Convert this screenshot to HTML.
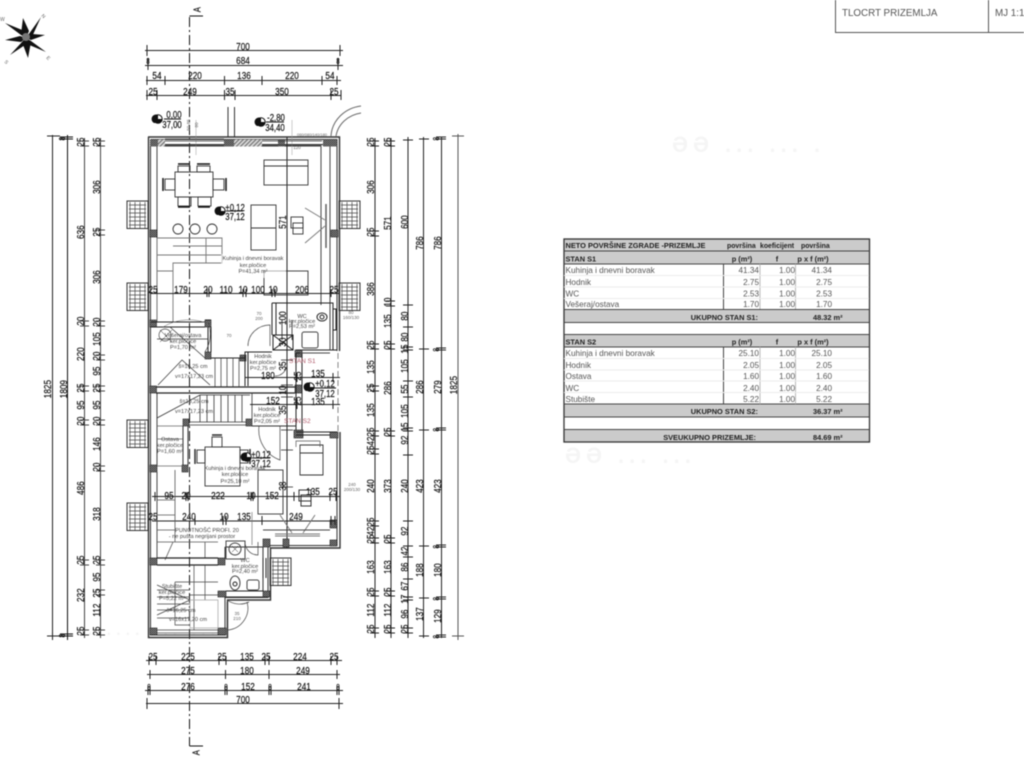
<!DOCTYPE html>
<html><head><meta charset="utf-8"><title>Tlocrt prizemlja</title>
<style>
html,body{margin:0;padding:0;background:#fff;width:1024px;height:768px;overflow:hidden}
svg{display:block;position:absolute;left:0;top:0;filter:blur(.4px)}
text{font-family:"Liberation Sans",sans-serif}
.d,.v{font-size:10.5px;fill:#111;stroke:#111;stroke-width:.2;text-anchor:middle;transform-box:fill-box;transform-origin:center}
.d{transform:scaleX(.78)}
.v{transform:rotate(-90deg) scaleX(.78)}
.s{font-size:5.6px;fill:#444;text-anchor:middle}
.t{font-size:8.2px;fill:#555}
.r{text-anchor:end}
.c{text-anchor:middle}
.b{font-weight:bold;fill:#222;font-size:7.4px}
.hd{font-size:6.9px}
.fx{font-size:4.5px;fill:#666;text-anchor:middle}
.ghost{font-size:22px;fill:#f5f5f5;font-weight:bold;letter-spacing:5px}
</style></head><body>
<svg width="1024" height="768" viewBox="0 0 1024 768" xmlns="http://www.w3.org/2000/svg">
<defs>
<pattern id="h" width="3" height="3" patternUnits="userSpaceOnUse" patternTransform="rotate(45)"><rect width="3" height="3" fill="#ddd"/><rect width="1.3" height="3" fill="#777"/></pattern>
<pattern id="p" width="2" height="2" patternUnits="userSpaceOnUse"><rect width="2" height="2" fill="#999"/><rect width="1" height="1" fill="#222"/><rect x="1" y="1" width="1" height="1" fill="#333"/></pattern>
<g id="gr"><rect width="21" height="27.5" fill="#fff" stroke="#333" stroke-width="1"/><path d="M2 4H19M2 8H19M2 12H19M2 16H19M2 20H19M2 24H19M3 1V27M8 1V27M13 1V27M18 1V27" stroke="#444" stroke-width=".7" fill="none"/></g>
</defs>
<rect width="1024" height="768" fill="#fff"/>

<!-- faint ghost text -->
<text class="ghost" x="672" y="152">ƏƏ ...  ... .</text>
<text class="ghost" x="565" y="463">ƏƏ ... ...</text>
<text class="ghost" x="50" y="635" style="font-size:16px">.......... ... ...</text>

<!-- title block -->
<path d="M835.5 0V32.5H1024M988.5 0V32.5" fill="none" stroke="#555" stroke-width="1"/>
<text x="842" y="16" style="font-size:9.8px;fill:#555">TLOCRT PRIZEMLJA</text>
<text x="995" y="16" style="font-size:9.8px;fill:#555">MJ 1:100</text>

<!-- compass -->
<g fill="#111">
<path d="M26 38L41 17L30 33ZM26 38L41 17L31 39Z"/>
<path d="M26 38L46 52L31 41ZM26 38L46 52L27 44Z"/>
<path d="M26 38L5 23L21 35ZM26 38L5 23L27 32Z"/>
<path d="M26 38L10 55L22 42ZM26 38L10 55L28 43Z"/>
<path d="M26 38L23 18L29 31ZM26 38L23 18L21 34Z"/>
<path d="M26 38L45 35L32 34ZM26 38L45 35L31 40Z"/>
<path d="M26 38L28 58L31 42ZM26 38L28 58L22 42Z"/>
<path d="M26 38L5 40L20 36ZM26 38L5 40L21 42Z"/>
</g>
<circle cx="26" cy="37" r="4" fill="#777"/>
<g style="font-size:5px;fill:#666"><text x="41" y="16" transform="rotate(45 41 16)">N</text><text x="0" y="21">W</text><text x="4" y="62" transform="rotate(45 4 62)">S</text><text x="46" y="58" transform="rotate(45 46 58)">E</text></g>

<!-- section axis -->
<path d="M189.5 17V746" fill="none" stroke="#111" stroke-width="1" stroke-dasharray="10 3 2 3"/>
<path d="M189.5 16H203M189.5 746H203" stroke="#111" stroke-width="1"/>
<text class="v" x="197" y="13" style="font-size:10px">A</text>
<text class="v" x="196" y="756" style="font-size:10px">A</text>

<!-- top horizontal dims -->
<g stroke="#222" stroke-width="1" fill="none">
<path d="M145 50.5H343M147 45V56M340 45V56"/>
<path d="M145 65.5H343M148 58V70M338 58V70"/>
<path d="M146 80.5H341M147 76V85M165 76V85M224.5 76V85M262 76V85M322 76V85M337 76V85"/>
<path d="M146 95.5H341M147 90V100M157 90V100M224.5 90V100M235 90V100M331 90V100M341 90V100"/>
<!-- bottom dims -->
<path d="M146 660.5H342M149 656V665M156 656V665M219 656V665M226 656V665M265 656V665M269 656V665M331 656V665M337 656V665"/>
<path d="M147 674.5H340M150 670V679M225.5 670V679M269 670V679M337 670V679"/>
<path d="M145 690.5H343M148 686V695M150 686V695M225 686V695M227 686V695M269 686V695M271 686V695M337 686V695M339 686V695"/>
<path d="M146 703.5H343M147 698V709M339 698V709"/>
</g>
<text class="d" x="243" y="50">700</text>
<text class="d" x="243" y="64">684</text>
<text class="d" x="148" y="64" style="font-size:8px">8</text><text class="d" x="338" y="64" style="font-size:8px">8</text>
<text class="d" x="157" y="79">54</text><text class="d" x="195" y="79">220</text><text class="d" x="244" y="79">136</text><text class="d" x="292" y="79">220</text><text class="d" x="330" y="79">54</text>
<text class="d" x="153" y="95">25</text><text class="d" x="190" y="95">249</text><text class="d" x="230" y="95">35</text><text class="d" x="282" y="95">350</text><text class="d" x="334" y="95">25</text>
<text class="d" x="153" y="660">25</text><text class="d" x="188" y="660">225</text><text class="d" x="222" y="660">25</text><text class="d" x="247" y="660">135</text><text class="d" x="266" y="660">25</text><text class="d" x="300" y="660">224</text><text class="d" x="334" y="660">25</text>
<text class="d" x="188" y="674">275</text><text class="d" x="247" y="674">180</text><text class="d" x="303" y="674">249</text>
<text class="d" x="149" y="690" style="font-size:8px">8</text><text class="d" x="188" y="690">276</text><text class="d" x="226" y="690" style="font-size:8px">8</text><text class="d" x="248" y="690">152</text><text class="d" x="270" y="690" style="font-size:8px">8</text><text class="d" x="304" y="690">241</text><text class="d" x="338" y="690" style="font-size:8px">8</text>
<text class="d" x="243" y="703">700</text>

<!-- vertical dim lines + ticks: left -->
<g stroke="#222" stroke-width="1" fill="none">
<path d="M52.5 135V640M47 136H60M47 636H60"/>
<path stroke="#111" d="M67.5 135V640M60 137H73M60 139H73M60 634H73M60 636H73"/>
<path stroke="#444" d="M84.5 138V638M80 141H89M80 146H89M80 321H89M80 326H89M80 386H89M80 391H89M80 420H89M80 425H89M80 560H89M80 565H89M80 630H89M80 635H89"/>
<path stroke="#444" d="M100.5 138V638M96 141H105M96 146H105M96 230H105M96 235H105M96 321H105M96 326H105M96 355H105M96 360H105M96 386H105M96 391H105M96 420H105M96 425H105M96 466H105M96 471H105M96 560H105M96 565H105M96 590H105M96 595H105M96 630H105M96 635H105"/>
<!-- right -->
<path d="M375 138V638M370 141H379M370 146H379M370 231H379M370 236H379M370 344H379M370 349H379M370 386H379M370 391H379M370 431H379M370 436H379M370 449H379M370 454H379M370 521H379M370 526H379M370 538H379M370 543H379M370 591H379M370 596H379M370 628H379M370 633H379"/>
<path d="M391 138V638M386 141H395M386 146H395M386 301H395M386 306H395M386 344H395M386 349H395M386 431H395M386 436H395M386 538H395M386 543H395M386 591H395M386 596H395M386 628H395M386 633H395"/>
<path d="M408 137V638M403 140H413M403 305H413M403 327H413M403 347H413M403 350H413M403 381H413M403 397H413M403 428H413M403 431H413M403 455H413M403 521H413M403 546H413M403 557H413M403 579H413M403 597H413M403 600H413M403 628H413M403 633H413"/>
<path d="M423.5 137V638M419 139H429M419 349H429M419 430H429M419 546H429M419 598H429M419 636H429"/>
<path d="M441.5 137V638M436 137H446M436 139H446M436 348H446M436 350H446M436 428H446M436 430H446M436 545H446M436 547H446M436 597H446M436 599H446M436 635H446M436 637H446"/>
<path stroke="#555" d="M458 134V640M452 136H464M452 636H464"/>
</g>
<!-- vertical labels left -->
<g>
<text class="v" x="47" y="393">1825</text><text class="v" x="63" y="393">1809</text>
<text class="v" x="80" y="236">636</text><text class="v" x="80" y="325">20</text><text class="v" x="80" y="358">220</text><text class="v" x="80" y="392">25</text><text class="v" x="80" y="409">95</text><text class="v" x="80" y="425">20</text><text class="v" x="80" y="492">486</text><text class="v" x="80" y="564">25</text><text class="v" x="80" y="599">232</text><text class="v" x="80" y="635">25</text>
<text class="v" x="80" y="146">25</text>
<text class="v" x="96" y="146">25</text><text class="v" x="96" y="191">306</text><text class="v" x="96" y="236">25</text><text class="v" x="96" y="281">306</text><text class="v" x="96" y="326">20</text><text class="v" x="96" y="343">105</text><text class="v" x="96" y="360">20</text><text class="v" x="96" y="375">95</text><text class="v" x="96" y="392">25</text><text class="v" x="96" y="409">95</text><text class="v" x="96" y="425">20</text><text class="v" x="96" y="448">146</text><text class="v" x="96" y="471">20</text><text class="v" x="96" y="518">318</text><text class="v" x="96" y="564">25</text><text class="v" x="96" y="581">95</text><text class="v" x="96" y="597">25</text><text class="v" x="96" y="614">112</text><text class="v" x="96" y="635">25</text>
<!-- right labels -->
<text class="v" x="370" y="146">25</text><text class="v" x="370" y="191">306</text><text class="v" x="370" y="236">25</text><text class="v" x="370" y="293">386</text><text class="v" x="370" y="349">25</text><text class="v" x="370" y="371">135</text><text class="v" x="370" y="392">25</text><text class="v" x="370" y="414">135</text><text class="v" x="370" y="436">25</text><text class="v" x="370" y="445">42</text><text class="v" x="370" y="454">25</text><text class="v" x="370" y="490">240</text><text class="v" x="370" y="526">25</text><text class="v" x="370" y="535">42</text><text class="v" x="370" y="543">25</text><text class="v" x="370" y="571">163</text><text class="v" x="370" y="596">25</text><text class="v" x="370" y="614">112</text><text class="v" x="370" y="633">25</text>
<text class="v" x="387" y="146">25</text><text class="v" x="387" y="227">571</text><text class="v" x="387" y="306">10</text><text class="v" x="387" y="325">135</text><text class="v" x="387" y="349">25</text><text class="v" x="387" y="392">286</text><text class="v" x="387" y="436">25</text><text class="v" x="387" y="490">373</text><text class="v" x="387" y="543">25</text><text class="v" x="387" y="571">163</text><text class="v" x="387" y="596">25</text><text class="v" x="387" y="614">112</text><text class="v" x="387" y="633">25</text>
<text class="v" x="404" y="226">600</text><text class="v" x="404" y="320">80</text><text class="v" x="404" y="341">80</text><text class="v" x="404" y="353">15</text><text class="v" x="404" y="370">105</text><text class="v" x="404" y="393">55</text><text class="v" x="404" y="415">105</text><text class="v" x="404" y="431">15</text><text class="v" x="404" y="444">92</text><text class="v" x="404" y="490">240</text><text class="v" x="404" y="535">92</text><text class="v" x="404" y="555">42</text><text class="v" x="404" y="571">86</text><text class="v" x="404" y="590">67</text><text class="v" x="404" y="603">17</text><text class="v" x="404" y="618">96</text><text class="v" x="404" y="633">25</text>
<text class="v" x="419" y="247">786</text><text class="v" x="419" y="391">286</text><text class="v" x="419" y="490">423</text><text class="v" x="419" y="574">188</text><text class="v" x="419" y="618">137</text>
<text class="v" x="437" y="247">786</text><text class="v" x="437" y="391">279</text><text class="v" x="437" y="490">423</text><text class="v" x="437" y="574">180</text><text class="v" x="437" y="620">129</text>
<text class="v" x="437" y="141" style="font-size:8px">8</text><text class="v" x="437" y="352" style="font-size:8px">8</text><text class="v" x="437" y="432" style="font-size:8px">8</text><text class="v" x="437" y="549" style="font-size:8px">8</text><text class="v" x="437" y="601" style="font-size:8px">8</text><text class="v" x="437" y="639" style="font-size:8px">8</text>
<text class="v" x="453" y="389">1825</text>
<text class="v" x="63" y="141" style="font-size:8px">8</text><text class="v" x="63" y="638" style="font-size:8px">8</text>
</g>

<!-- window grates -->
<use href="#gr" x="127" y="201"/><use href="#gr" x="339" y="201"/><use href="#gr" x="127" y="283"/><use href="#gr" x="339" y="283"/><use href="#gr" x="127" y="420"/><use href="#gr" x="127" y="503"/><use href="#gr" x="270" y="558"/>

<!-- outer walls -->
<g fill="none" stroke="#333" stroke-width="1">
<path d="M148 137H339.5V351M340 432V548H270.5V600H227.5V637.5H148.5V137" stroke-width="1.4"/>
<path d="M150.5 139.5H337V351M337 433V545.5H268V597.5H225V635H150.5V139.5"/>
<path d="M157 146V322M157 393V466M157 472V558M321 146V305M330 146V350" stroke="#444"/>
<path d="M338 353V432" stroke="#888" stroke-dasharray="6 3"/>
<path d="M157 146H321M152 144.5H336"/>
<!-- entrance stairs & arc at top -->
<path d="M228 107V137M234.5 107V137" stroke="#333"/>
<path d="M331 136C332 120 345 108 361 106M336 136C338 124 348 115 361 113" stroke="#666"/>
<!-- upper internal dim vertical -->
<path d="M287 137V548" stroke="#222"/>
<path d="M196 120V155M292 120V155" stroke="#999" stroke-width=".5"/>
</g>

<!-- top wall segments -->
<rect x="150" y="139.5" width="8" height="7" fill="url(#p)"/><rect x="158" y="139.5" width="7" height="7" fill="url(#h)"/>
<rect x="224" y="139.5" width="10" height="7" fill="url(#p)"/><rect x="234" y="139.5" width="28" height="7" fill="url(#h)"/>
<rect x="278" y="139.5" width="7" height="7" fill="url(#p)"/><rect x="323" y="139.5" width="14" height="7" fill="url(#p)"/>
<path d="M165 141H224M165 145H224M262 141H322M262 145H322M165 139H224" stroke="#333" stroke-width=".8" fill="none"/>

<!-- piers -->
<g fill="url(#p)" stroke="#222" stroke-width=".6">
<rect x="150" y="230" width="7" height="7"/><rect x="331" y="230" width="7" height="7"/>
<rect x="150" y="320" width="6.5" height="7"/><rect x="205" y="320" width="6" height="7"/>
<rect x="150" y="386" width="6.5" height="7"/><rect x="205" y="352" width="6" height="7"/><rect x="240" y="355" width="6" height="6"/>
<rect x="183" y="419" width="6" height="7"/><rect x="246" y="419" width="6" height="7"/>
<rect x="150" y="465" width="7" height="7"/><rect x="182" y="465" width="6" height="7"/>
<rect x="295" y="350" width="7" height="7"/><rect x="295" y="385" width="7" height="8"/><rect x="294" y="430" width="9" height="8"/><rect x="330" y="432" width="8" height="6"/>
<rect x="330" y="520" width="7" height="8"/><rect x="330" y="540" width="7" height="6"/><rect x="263" y="539" width="7" height="8"/><rect x="283" y="539" width="6" height="8"/>
<rect x="150" y="558" width="7" height="7"/><rect x="218" y="558" width="7" height="7"/><rect x="218" y="591" width="8" height="6"/><rect x="263" y="591" width="7" height="6"/>
<rect x="150" y="628" width="7" height="7"/><rect x="218" y="628" width="8" height="7"/>
</g>

<!-- upper room furniture -->
<g fill="none" stroke="#333" stroke-width=".9">
<rect x="175" y="172" width="38" height="25"/>
<rect x="178" y="166" width="12" height="6"/><rect x="197" y="166" width="13" height="6"/><rect x="178" y="197" width="13" height="9"/><rect x="198" y="197" width="13" height="9"/>
<path d="M178 164H190M197 164H210M178 207H190M198 207H210" stroke="#111" stroke-width="1.5"/>
<rect x="165" y="179" width="10" height="11"/><rect x="213" y="179" width="11" height="11"/>
<path d="M163 178V191M226 178V191" stroke="#111" stroke-width="1.5"/>
<circle cx="178" cy="229" r="5"/><circle cx="195" cy="229" r="5"/><circle cx="212" cy="229" r="5"/>
<path d="M157 238H222V263H173V322M173 246H222M157 255H222M157 271H173M206 238V263M157 238V322" stroke="#777"/>
<rect x="264" y="160" width="44" height="25"/><path d="M264 166H308"/>
<rect x="251" y="205" width="25" height="45"/><path d="M251 228H276"/>
<rect x="291" y="217" width="12" height="11"/><rect x="293" y="223" width="10" height="11"/>
<path d="M326 204V248" stroke="#555" stroke-width="1.4"/><path d="M305 208L325 220M305 243L325 226" stroke="#777"/>
<rect x="264" y="271" width="44" height="24"/>
</g>

<!-- mid plan lines -->
<g fill="none" stroke="#222" stroke-width="1">
<path d="M151 293.5H339M157 293V288M207 289V297M209 289V297M243 289V297M246 289V297M272 289V297M275 289V297M331 289V297"/>
<path d="M151 322H205M151 327H205M211 320H205"/>
<path d="M156 393H295M156 387H295" stroke-width="1.3"/>
<path d="M208 327V352M211 327V352" />
<path d="M211 358H245V352H272M245 352V386M248 352V386"/>
<!-- WC S1 -->
<path d="M272 303H333V350M272 303V335M276 303V335" />
<path d="M333 309H336V330H333" />
<rect x="273" y="335" width="20" height="15"/><path d="M273 335L293 350M293 335L273 350"/>
<path d="M296 350H337M296 353H330M296 432H337M296 435H330M296 353V430M302 353V430"/>
<path d="M300 353H330M302 351V353M330 333V350" stroke="#444"/>
<rect x="302" y="332" width="16" height="16" rx="2" stroke="#444"/>
<ellipse cx="322" cy="317" rx="5" ry="4"/><circle cx="322" cy="317" r="2"/>
<!-- door arcs -->
<path d="M248 346C248 334 258 325 270 325V346" stroke="#444" stroke-width=".7"/>
<path d="M287 364A12 12 0 0 1 275 376" stroke="#444" stroke-width=".7"/>
<path d="M163 327A50 50 0 0 1 211 325" stroke="#666" stroke-width=".5"/>
<path d="M205 352A33 33 0 0 0 208 322" stroke="#444" stroke-width=".7"/>
<path d="M259 426A32 32 0 0 0 280 460V426H252" stroke="#444" stroke-width=".7"/>
<!-- stairs upper -->
<path d="M158 385L182 360L210 385M215 358V387M221 358V387M227 358V387M233 358V387M239 358V387M157 339H208M170 327L205 358" stroke="#333" stroke-width=".7"/>
<circle cx="165" cy="335" r="6" stroke="#444" stroke-width=".7"/>
<path d="M160 330L172 342M172 330L160 342" stroke-width=".5"/>
<!-- stairs lower -->
<path d="M157 418L200 395H250M200 395V422M207 395V422M214 395V422M221 395V422M228 395V422M235 395V422M242 395V422M189 422H246M189 425H246M252 393V419" stroke="#333" stroke-width=".8"/>
<path d="M157 439H183M157 426H183M157 466H183" stroke="#666" stroke-width=".7"/>
<path d="M183 426V465M188 426V465M252 426H296" stroke="#333"/>
<!-- dims at room -->
<path d="M245 377.5H340M333 373V382M302 373V382M297 373V382"/>
<path d="M250 404.5H340M333 400V409M302 400V409M297 400V409"/>
<path d="M282 320V340M292 320V340M281 360H293M281 385H293M281 397H293M281 430H293M281 450H293M281 487H293" stroke-width=".8"/>
<!-- lower apartment furniture -->
<rect x="205" y="447" width="35" height="39" stroke="#333" stroke-width=".9"/>
<rect x="212" y="437" width="10" height="10" stroke="#333" stroke-width=".9"/><path d="M212 435H222" stroke-width="1.4"/>
<rect x="197" y="450" width="8" height="13" stroke="#333" stroke-width=".9"/><rect x="240" y="450" width="8" height="13" stroke="#333" stroke-width=".9"/>
<path d="M195 449V464M250 449V464" stroke-width="1.4"/>
<rect x="258" y="470" width="25" height="44" stroke="#333" stroke-width=".9"/>
<path d="M300 475V445H323V475ZM300 453H323" stroke="#333" stroke-width=".9"/>
<path d="M296 447V441H320V447" stroke="#555" stroke-width=".7"/>
<rect x="299" y="490" width="12" height="11" stroke="#333"/><rect x="301" y="495" width="10" height="11" stroke="#333"/>
<path d="M152 496.5H340M155 492V501M186 492V501M188 492V501M251 492V501M253 492V501M294 492V501M330 492V501M336 492V501" stroke="#222"/>
<path d="M152 521H335M157 516V525M195 516V525M223 516V525M226 516V525M262 516V525M331 516V525M335 516V525" stroke="#222"/>
<path d="M280 515L292 533M315 515L303 533" stroke="#777"/>
<path d="M275 534H320M275 536H320" stroke="#777" stroke-width="1"/>
<path d="M263 530H330" stroke="#444"/>
<!-- low stairs left -->
<path d="M157 500H175V470M157 515H175M157 530H175M157 500V558M175 500V542M157 542H218M205 542V558M173 542L165 560" stroke="#555" stroke-width=".8"/>
<path d="M157 558H218M157 565H218" stroke="#222" stroke-width="1.2"/>
<path d="M194 565V630M205 565V600M175 582V625H190M175 582H218M190 595H218M157 590H190M157 597H190M157 604H190M157 610H190M157 618H190M157 585L190 600M157 615L190 600M157 630H218M157 633H218" stroke="#444" stroke-width=".7"/>
<rect x="190" y="600" width="28" height="28" fill="none" stroke="#aaa" stroke-width=".8"/>
<!-- WC S2 -->
<path d="M225 547H263V591M225 547V558" stroke="#333"/>
<path d="M226 591H263M226 597H263M263 558V578M266 558V578" stroke="#222"/>
<rect x="226" y="541" width="19" height="18" stroke="#444"/><circle cx="235" cy="549" r="6" stroke="#444"/>
<path d="M232 546L238 552M238 546L232 552" stroke-width=".5"/>
<ellipse cx="235" cy="583" rx="5" ry="7" stroke="#444"/><circle cx="235" cy="584" r="2"/>
<rect x="247" y="580" width="12" height="10" rx="2" stroke="#444"/>
<path d="M245 542A13 13 0 0 0 258 555V542" stroke="#444" stroke-width=".7"/>
<path d="M252 512V545" stroke="#777" stroke-width=".7"/>
<path d="M227 600A22 22 0 0 0 249 602" stroke="#444" stroke-width=".7"/>
<path d="M227 602V636M247 602A22 22 0 0 1 228 630" stroke="#444" stroke-width=".7"/>
</g>

<!-- horizontal dim labels in plan -->
<text class="d" x="153" y="293">25</text><text class="d" x="181" y="293">179</text><text class="d" x="208" y="293">20</text><text class="d" x="226" y="293">110</text><text class="d" x="243" y="293">10</text><text class="d" x="258" y="293">100</text><text class="d" x="273" y="293">10</text><text class="d" x="302" y="293">206</text><text class="d" x="334" y="293">25</text>
<text class="d" x="268" y="379">180</text><text class="d" x="318" y="377">135</text><text class="d" x="273" y="404">152</text><text class="d" x="318" y="405">135</text>
<text class="v" x="282" y="226">571</text><text class="v" x="282" y="322">100</text><text class="v" x="282" y="346">30</text><text class="v" x="282" y="370">35</text><text class="v" x="282" y="394">10</text><text class="v" x="282" y="414">35</text><text class="v" x="282" y="490">38</text>
<text class="v" x="297" y="380">25</text><text class="v" x="297" y="405">25</text>
<text class="d" x="169" y="499">95</text><text class="d" x="186" y="499">20</text><text class="d" x="218" y="499">222</text><text class="d" x="251" y="499">10</text><text class="d" x="272" y="499">152</text><text class="d" x="313" y="495">135</text><text class="d" x="333" y="495">25</text>
<text class="d" x="153" y="520">25</text><text class="d" x="189" y="520">240</text><text class="d" x="224" y="520">10</text><text class="d" x="244" y="520">135</text><text class="d" x="296" y="520">249</text>

<!-- levels -->
<g>
<circle cx="158" cy="119" r="4.2" fill="#fff" stroke="#111"/><path d="M158 115V123H154A4 4 0 0 1 158 115ZM158 119H162A4 4 0 0 1 158 123Z" fill="#111"/>
<path d="M164 119H181" stroke="#111"/><text class="d" x="174" y="118" style="font-size:10px">0,00</text><text class="d" x="172" y="128" style="font-size:10px">37,00</text>
<circle cx="261" cy="122" r="4.2" fill="#fff" stroke="#111"/><path d="M261 118V126H257A4 4 0 0 1 261 118ZM261 122H265A4 4 0 0 1 261 126Z" fill="#111"/>
<path d="M266 122H284" stroke="#111"/><text class="d" x="276" y="121" style="font-size:10px">-2,80</text><text class="d" x="275" y="131" style="font-size:10px">34,40</text>
<circle cx="221" cy="211" r="4.2" fill="#fff" stroke="#111"/><path d="M221 207V215H217A4 4 0 0 1 221 207ZM221 211H225A4 4 0 0 1 221 215Z" fill="#111"/>
<path d="M226 211H243" stroke="#111"/><text class="d" x="235" y="211" style="font-size:10px">+0,12</text><text class="d" x="235" y="220" style="font-size:10px">37,12</text>
<circle cx="310" cy="387" r="4.2" fill="#fff" stroke="#111"/><path d="M310 383V391H306A4 4 0 0 1 310 383ZM310 387H314A4 4 0 0 1 310 391Z" fill="#111"/>
<path d="M314 388H336" stroke="#111"/><text class="d" x="325" y="387" style="font-size:10px">+0,12</text><text class="d" x="325" y="397" style="font-size:10px">37,12</text>
<circle cx="247" cy="457" r="4.2" fill="#fff" stroke="#111"/><path d="M247 453V461H243A4 4 0 0 1 247 453ZM247 457H251A4 4 0 0 1 247 461Z" fill="#111"/>
<path d="M252 458H270" stroke="#111"/><text class="d" x="261" y="458" style="font-size:10px">+0,12</text><text class="d" x="261" y="467" style="font-size:10px">37,12</text>
</g>

<!-- room labels -->
<g>
<rect x="221" y="254" width="65" height="24" fill="#fff" opacity=".6"/>
<text class="s" x="253" y="260">Kuhinja i dnevni boravak</text><text class="s" x="253" y="267">ker.pločice</text><text class="s" x="253" y="273">P=41,34 m²</text>
<text class="s" x="302" y="318">WC</text><text class="s" x="302" y="323">ker.pločice</text><text class="s" x="302" y="328">P=2,53 m²</text>
<text class="s" x="183" y="337">Vešeraj/ostava</text><text class="s" x="183" y="343">ker.pločice</text><text class="s" x="183" y="349">P=1,70 m²</text>
<text class="s" x="263" y="358">Hodnik</text><text class="s" x="263" y="364">ker.pločice</text><text class="s" x="263" y="370">P=2,75 m²</text>
<text class="s" x="193" y="368">š=16,25 cm</text><text class="s" x="194" y="378">v=17x17,23 cm</text>
<text class="s" x="194" y="403">š=16,25 cm</text><text class="s" x="194" y="413">v=17x17,23 cm</text>
<text class="s" x="267" y="411">Hodnik</text><text class="s" x="267" y="417">ker.pločice</text><text class="s" x="267" y="423">P=2,05 m²</text>
<text class="s" x="170" y="441">Ostava</text><text class="s" x="170" y="447">ker.pločice</text><text class="s" x="170" y="453">P=1,60 m²</text>
<text class="s" x="235" y="470">Kuhinja i dnevni boravak</text><text class="s" x="235" y="476">ker.pločice</text><text class="s" x="235" y="483">P=25,10 m²</text>
<text class="s" x="207" y="532">PUNOTNOŠĆ PROFI. 20</text><text class="s" x="202" y="538">- ne pušta  negrijani prostor</text>
<text class="s" x="245" y="562">WC</text><text class="s" x="245" y="568">ker.pločice</text><text class="s" x="245" y="573">P=2,40 m²</text>
<text class="s" x="172" y="588">Stubište</text><text class="s" x="172" y="594">ker.pločice</text><text class="s" x="172" y="600">P=5,22 m²</text>
<text class="s" x="181" y="612">š=16,25 cm</text><text class="s" x="188" y="621">v=16x17,20 cm</text>
<text style="font-size:6.5px;fill:#b05a6a" x="289" y="363">STAN S1</text>
<text style="font-size:6.5px;fill:#b05a6a" x="284" y="423">STAN S2</text>
<text class="fx" x="229" y="337">70</text><text class="fx" x="259" y="315">70</text><text class="fx" x="259" y="320">200</text>
<text class="fx" x="351" y="314">80</text><text class="fx" x="351" y="319">160/130</text>
<text class="fx" x="352" y="486">240</text><text class="fx" x="352" y="491">200/130</text>
<text class="fx" x="237" y="615">35</text><text class="fx" x="237" y="620">210</text>
<text class="fx" x="297" y="149">120</text><text class="fx" x="312" y="136" style="font-size:4px">060/080/140/180</text>
<text class="fx" x="190" y="125" transform="rotate(-90 190 125)">50-85</text><text class="fx" x="198" y="125" transform="rotate(-90 198 125)">80</text>
</g>

<!-- table -->
<g>
<rect x="564" y="239" width="305.5" height="203" fill="#fff"/>
<g fill="#cbcbcb">
<rect x="564" y="239" width="305.5" height="12"/><rect x="564" y="251" width="305.5" height="13"/><rect x="564" y="309.5" width="305.5" height="13"/><rect x="564" y="334.5" width="305.5" height="12.5"/><rect x="564" y="404" width="305.5" height="13"/><rect x="564" y="429.5" width="305.5" height="12.5"/>
</g>
<g fill="none" stroke="#444" stroke-width="1">
<rect x="564" y="239" width="305.5" height="203" stroke="#333" stroke-width="1.3"/>
<path d="M564 251H869.5M564 264H869.5M564 309.5H869.5M564 322.5H869.5M564 334.5H869.5M564 347H869.5M564 404H869.5M564 417H869.5M564 429.5H869.5"/>
<path d="M723.5 264V309M723.5 347V404"/>
<path d="M760 264V309M760 347V404M795.5 264V309M795.5 347V404" stroke="#bbb"/>
<path d="M564 275.5H869M564 287H869M564 298.5H869M564 358.5H869M564 370H869M564 381H869M564 392.5H869" stroke="#ececec"/>
</g>
<text class="t b" x="565.5" y="248">NETO POVRŠINE ZGRADE -PRIZEMLJE</text>
<text class="t b hd" x="727" y="248">površina</text><text class="t b hd" x="760" y="248">koeficijent</text><text class="t b hd" x="801" y="248">površina</text>
<text class="t b" x="565.5" y="261.5">STAN S1</text><text class="t b c" x="742" y="261.5">p (m²)</text><text class="t b c" x="777" y="261.5">f</text><text class="t b c" x="813" y="261.5">p x f (m²)</text>
<text class="t" x="565.5" y="273">Kuhinja i dnevni boravak</text><text class="t r" x="759" y="273">41.34</text><text class="t r" x="795" y="273">1.00</text><text class="t r" x="832" y="273">41.34</text>
<text class="t" x="565.5" y="285">Hodnik</text><text class="t r" x="759" y="285">2.75</text><text class="t r" x="795" y="285">1.00</text><text class="t r" x="832" y="285">2.75</text>
<text class="t" x="565.5" y="296.5">WC</text><text class="t r" x="759" y="296.5">2.53</text><text class="t r" x="795" y="296.5">1.00</text><text class="t r" x="832" y="296.5">2.53</text>
<text class="t" x="565.5" y="307">Vešeraj/ostava</text><text class="t r" x="759" y="307">1.70</text><text class="t r" x="795" y="307">1.00</text><text class="t r" x="832" y="307">1.70</text>
<text class="t b r" x="758" y="320">UKUPNO STAN S1:</text><text class="t b" x="813" y="320">48.32 m²</text>
<text class="t b" x="565.5" y="344.5">STAN S2</text><text class="t b c" x="742" y="344.5">p (m²)</text><text class="t b c" x="777" y="344.5">f</text><text class="t b c" x="813" y="344.5">p x f (m²)</text>
<text class="t" x="565.5" y="356">Kuhinja i dnevni boravak</text><text class="t r" x="759" y="356">25.10</text><text class="t r" x="795" y="356">1.00</text><text class="t r" x="832" y="356">25.10</text>
<text class="t" x="565.5" y="368">Hodnik</text><text class="t r" x="759" y="368">2.05</text><text class="t r" x="795" y="368">1.00</text><text class="t r" x="832" y="368">2.05</text>
<text class="t" x="565.5" y="379">Ostava</text><text class="t r" x="759" y="379">1.60</text><text class="t r" x="795" y="379">1.00</text><text class="t r" x="832" y="379">1.60</text>
<text class="t" x="565.5" y="391">WC</text><text class="t r" x="759" y="391">2.40</text><text class="t r" x="795" y="391">1.00</text><text class="t r" x="832" y="391">2.40</text>
<text class="t" x="565.5" y="402">Stubište</text><text class="t r" x="759" y="402">5.22</text><text class="t r" x="795" y="402">1.00</text><text class="t r" x="832" y="402">5.22</text>
<text class="t b r" x="758" y="414">UKUPNO STAN S2:</text><text class="t b" x="813" y="414">36.37 m²</text>
<text class="t b r" x="756" y="440">SVEUKUPNO PRIZEMLJE:</text><text class="t b" x="813" y="440">84.69 m²</text>
</g>
</svg>
</body></html>
